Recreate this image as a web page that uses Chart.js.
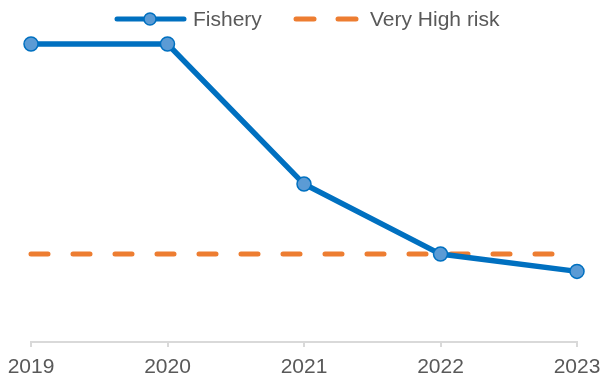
<!DOCTYPE html>
<html><head><meta charset="utf-8">
<script src="https://cdn.jsdelivr.net/npm/chart.js@4.4.1/dist/chart.umd.min.js"></script>
<style>html,body{margin:0;padding:0;background:#fff}#w{width:600px;height:379px}</style>
</head><body><div id="w"><canvas id="c"></canvas></div>
<script>
const years = ['2019','2020','2021','2022','2023'];
const fishery = [1.0, 1.0, 0.53, 0.295, 0.237];
const veryHighRisk = [0.295, 0.295, 0.295, 0.295, 0.295];
const seriesNames = ['Fishery', 'Very High risk'];

const FONT = '"Liberation Sans", Arial, sans-serif';

const legendPlugin = {
  id: 'customLegend',
  afterDraw(chart) {
    const ctx = chart.ctx;
    const y = 19;
    ctx.save();
    ctx.lineCap = 'round';
    // Fishery
    ctx.strokeStyle = '#0070C0'; ctx.lineWidth = 5;
    ctx.beginPath(); ctx.moveTo(117, y); ctx.lineTo(184, y); ctx.stroke();
    ctx.beginPath(); ctx.arc(150, y, 6, 0, Math.PI*2);
    ctx.fillStyle = '#5B9BD5'; ctx.fill(); ctx.lineWidth = 1.5; ctx.stroke();
    ctx.fillStyle = '#595959'; ctx.font = '21px ' + FONT;
    ctx.textBaseline = 'middle';
    ctx.fillText(seriesNames[0], 193, y + 1);
    // Very High risk
    ctx.strokeStyle = '#ED7D31'; ctx.lineWidth = 5; ctx.lineCap = 'round';
    ctx.beginPath(); ctx.moveTo(296, y); ctx.lineTo(314, y); ctx.stroke();
    ctx.beginPath(); ctx.moveTo(338, y); ctx.lineTo(356, y); ctx.stroke();
    ctx.fillText(seriesNames[1], 370, y + 1);
    ctx.restore();
  }
};

new Chart(document.getElementById('c'), {
  type: 'line',
  data: {
    labels: years,
    datasets: [
      {
        label: seriesNames[1], data: veryHighRisk,
        borderColor: '#ED7D31', borderWidth: 5, borderDash: [17, 25],
        borderCapStyle: 'round', pointRadius: 0, pointHoverRadius: 0,
        fill: false, clip: false, order: 2
      },
      {
        label: seriesNames[0], data: fishery,
        borderColor: '#0070C0', borderWidth: 5.5,
        pointRadius: 7, pointBackgroundColor: '#5B9BD5', pointBorderColor: '#0070C0',
        pointBorderWidth: 1.5, fill: false, clip: false, order: 1, tension: 0
      }
    ]
  },
  options: {
    responsive: true, maintainAspectRatio: false, animation: false,
    layout: { padding: { top: 30, left: 31, right: 23, bottom: 0 } },
    plugins: { legend: { display: false }, tooltip: { enabled: false } },
    scales: {
      x: {
        offset: false,
        afterFit(scale) { scale.paddingLeft = 0; scale.paddingRight = 0; scale.height = 37; },
        grid: { drawOnChartArea: false, color: '#D9D9D9', tickLength: 5, lineWidth: 2 },
        border: { color: '#D9D9D9', width: 2 },
        ticks: { color: '#595959', font: { family: FONT, size: 21, lineHeight: 1.0 }, padding: 10, maxRotation: 0 }
      },
      y: { display: false, min: 0, max: 1.047 }
    }
  },
  plugins: [legendPlugin]
});
</script></body></html>
